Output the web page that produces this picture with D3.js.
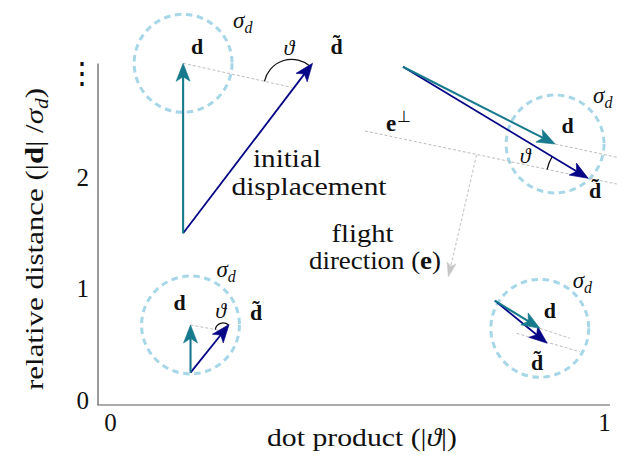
<!DOCTYPE html>
<html>
<head>
<meta charset="utf-8">
<script src="https://cdn.jsdelivr.net/npm/d3@7"></script>
<style>
  html, body { margin: 0; padding: 0; background: #fff; }
  svg { display: block; font-family: "Liberation Serif", "Times New Roman", Times, serif; }
</style>
</head>
<body>
<svg id="chart" width="617" height="455"></svg>
<script>
// ---- axis ticks ----
const xTickValues = [0, 1];
const yTickValues = [0, 1, 2];
const yBreakValue = 2.94;              // "⋮" above the last numbered tick

// ---- four example cases: true offset d (teal) and initial displacement d~ (navy) ----
const caseNames = ["far, off-axis", "far, along flight", "near, off-axis", "near, along flight"];
const originX = [0.148, 0.593, 0.163, 0.779];
const originY = [1.495, 2.989, 0.245, 0.891];
const dX      = [0.148, 0.901, 0.163, 0.870];
const dY      = [3.020, 2.296, 0.673, 0.643];
const dTildeX = [0.410, 0.968, 0.241, 0.885];
const dTildeY = [3.020, 1.988, 0.677, 0.509];
const sigmaD  = 0.439;                 // tolerance circle radius (relative-distance units)

// e-perpendicular guide lines: [x1, y1, x2, y2]
const guideLines = [
  [0.148, 3.020, 0.368, 2.804],
  [0.516, 2.413, 1.026, 1.937],
  [0.901, 2.296, 1.026, 2.177],
  [0.163, 0.673, 0.229, 0.619],
  [0.870, 0.643, 0.931, 0.553],
  [0.823, 0.598, 0.951, 0.433]
];
// flight direction e: [x1, y1, x2, y2]
const flightArrow = [0.742, 2.197, 0.685, 1.106];

// angle marks for theta: vertex, radius, and the two points the arms aim at
const angleMarks = [
  { v: [guideLines[0][2], guideLines[0][3]], r: 0.251, a: [dX[0], dY[0]], b: [dTildeX[0], dTildeY[0]] },
  { v: [dTildeX[1], dTildeY[1]],             r: 0.377, a: [guideLines[1][0], guideLines[1][1]], b: [originX[1], originY[1]] },
  { v: [guideLines[3][2], guideLines[3][3]], r: 0.072, a: [dX[2], dY[2]], b: [dTildeX[2], dTildeY[2]] }
];

// ---- scales ----
const x = d3.scaleLinear().domain([0, 1]).range([110, 604]);
const y = d3.scaleLinear().domain([0, 1]).range([400, 288.5]);
const len = v => y(0) - y(v);          // length in pixels for relative-distance units

const TEAL = "#17798c", NAVY = "#050586", CIRCLE = "#a7d7e7", GUIDE = "#bdbdbd", AXIS = "#5a5a5a";

const svg = d3.select("#chart");

// ---- axes ----
const axisG = svg.append("g");
axisG.append("path")
  .attr("d", `M${x(0) - 12},${y(3) - 2}V${y(0) + 5}H${x(1) + 6}`)
  .attr("fill", "none").attr("stroke", AXIS).attr("stroke-width", 1.2);

const yAxis = svg.append("g").attr("transform", `translate(${x(0) - 12},0)`)
  .call(d3.axisLeft(y).tickValues(yTickValues).tickSize(0).tickPadding(9).tickFormat(d3.format("d")));
const xAxis = svg.append("g").attr("transform", `translate(0,${y(0) + 5})`)
  .call(d3.axisBottom(x).tickValues(xTickValues).tickSize(0).tickPadding(8).tickFormat(d3.format("d")));
[yAxis, xAxis].forEach(g => {
  g.select(".domain").remove();
  g.selectAll("text").attr("font-family", null).attr("font-size", 25).attr("fill", "#111");
});
yAxis.attr("font-family", null);
xAxis.attr("font-family", null);
svg.append("text")
  .attr("x", x(0) - 28).attr("y", y(yBreakValue))
  .attr("text-anchor", "middle").attr("dominant-baseline", "central")
  .attr("font-size", 30).attr("fill", "#111")
  .text("⋮");

// axis titles
const xt = svg.append("text").attr("x", 362).attr("y", 446)
  .attr("text-anchor", "middle").attr("font-size", 26).attr("fill", "#111")
  .attr("textLength", 190).attr("lengthAdjust", "spacingAndGlyphs");
xt.append("tspan").text("dot product (|");
xt.append("tspan").attr("font-style", "italic").text("ϑ");
xt.append("tspan").text("|)");

const yt = svg.append("text").attr("transform", "translate(43,239) rotate(-90)")
  .attr("text-anchor", "middle").attr("font-size", 26).attr("fill", "#111")
  .attr("textLength", 302).attr("lengthAdjust", "spacingAndGlyphs");
yt.append("tspan").text("relative distance (|");
yt.append("tspan").attr("font-weight", "bold").text("d");
yt.append("tspan").text("| /");
yt.append("tspan").attr("font-style", "italic").text("σ");
yt.append("tspan").attr("font-style", "italic").attr("font-size", 18).attr("dy", 5).text("d");
yt.append("tspan").attr("dy", -5).text(")");

// ---- tolerance circles around d ----
svg.append("g").selectAll("circle").data(caseNames).join("circle")
  .attr("cx", (_, i) => x(dX[i])).attr("cy", (_, i) => y(dY[i]))
  .attr("r", len(sigmaD))
  .attr("fill", "none").attr("stroke", CIRCLE).attr("stroke-width", 3)
  .attr("stroke-dasharray", "6.5,4.6");

// ---- guide lines ----
svg.append("g").selectAll("line").data(guideLines).join("line")
  .attr("x1", d => x(d[0])).attr("y1", d => y(d[1]))
  .attr("x2", d => x(d[2])).attr("y2", d => y(d[3]))
  .attr("stroke", GUIDE).attr("stroke-width", 1).attr("stroke-dasharray", "3,2");

// arrow helper: shaft stops inside a stealth head drawn at the tip
function arrow(g, x1, y1, x2, y2, color, width, L, W, dash) {
  const dx = x2 - x1, dy = y2 - y1, n = Math.hypot(dx, dy);
  const ux = dx / n, uy = dy / n;
  const ang = Math.atan2(dy, dx) * 180 / Math.PI;
  g.append("line")
    .attr("x1", x1).attr("y1", y1)
    .attr("x2", x2 - ux * L * 0.6).attr("y2", y2 - uy * L * 0.6)
    .attr("stroke", color).attr("stroke-width", width)
    .attr("stroke-dasharray", dash || null);
  g.append("path")
    .attr("d", `M0,0L${-L},${-W / 2}L${-L * 0.75},0L${-L},${W / 2}Z`)
    .attr("transform", `translate(${x2},${y2}) rotate(${ang})`)
    .attr("fill", color).attr("stroke", color).attr("stroke-width", 0.6)
    .attr("stroke-linejoin", "round");
}

// flight direction
const fg = svg.append("g");
arrow(fg, x(flightArrow[0]), y(flightArrow[1]), x(flightArrow[2]), y(flightArrow[3]), "#c6c6c6", 1.1, 14, 9, "3,2");

// ---- angle marks ----
svg.append("g").selectAll("path").data(angleMarks).join("path")
  .attr("d", m => {
    const cx = x(m.v[0]), cy = y(m.v[1]);
    let a0 = Math.atan2(y(m.a[1]) - cy, x(m.a[0]) - cx);
    let a1 = Math.atan2(y(m.b[1]) - cy, x(m.b[0]) - cx);
    let diff = a1 - a0;
    while (diff > Math.PI) diff -= 2 * Math.PI;
    while (diff < -Math.PI) diff += 2 * Math.PI;
    const p = d3.path();
    const r = len(m.r);
    p.moveTo(cx + r * Math.cos(a0), cy + r * Math.sin(a0));
    p.arc(cx, cy, r, a0, a0 + diff, diff < 0);
    return p.toString();
  })
  .attr("fill", "none").attr("stroke", "#111").attr("stroke-width", 1.2);

// ---- d~ (navy) then d (teal) ----
const ag = svg.append("g");
caseNames.forEach((_, i) => {
  arrow(ag, x(originX[i]), y(originY[i]), x(dTildeX[i]), y(dTildeY[i]), NAVY, 1.8, 18, 14);
  arrow(ag, x(originX[i]), y(originY[i]), x(dX[i]), y(dY[i]), TEAL, 2.1, 18, 14);
});

// ---- math labels ----
const dLabelOff     = [[14, -9], [12.5, -11], [-11, -15], [10, -10]];
const dTildeLabelOff = [[24, -9], [7, 20], [27, -4.5], [-10, 27]];
const sigmaLabelOff = [[50, -35], [38, -41], [26, -48], [33, -40]];
const thetaLabelOff = [[-3, -32], [-63, -15], [-2.5, -13]];

const lg = svg.append("g").attr("fill", "#111");
caseNames.forEach((_, i) => {
  lg.append("text")
    .attr("x", x(dX[i]) + dLabelOff[i][0]).attr("y", y(dY[i]) + dLabelOff[i][1])
    .attr("text-anchor", "middle").attr("font-weight", "bold").attr("font-size", 22)
    .text("d");
  lg.append("text")
    .attr("x", x(dTildeX[i]) + dTildeLabelOff[i][0]).attr("y", y(dTildeY[i]) + dTildeLabelOff[i][1])
    .attr("text-anchor", "middle").attr("font-weight", "bold").attr("font-size", 22)
    .text("d\u0303");
  const s = lg.append("text")
    .attr("x", x(dX[i]) + sigmaLabelOff[i][0]).attr("y", y(dY[i]) + sigmaLabelOff[i][1])
    .attr("font-style", "italic").attr("font-size", 23);
  s.append("tspan").text("σ");
  s.append("tspan").attr("font-size", 16).attr("dy", 5).text("d");
});
angleMarks.forEach((m, i) => {
  lg.append("text")
    .attr("x", x(m.v[0]) + thetaLabelOff[i][0]).attr("y", y(m.v[1]) + thetaLabelOff[i][1])
    .attr("text-anchor", "middle").attr("font-style", "italic").attr("font-size", 22)
    .text("ϑ");
});

// e-perp label at the start of the long guide
const ep = lg.append("text")
  .attr("x", x(guideLines[1][0]) + 21).attr("y", y(guideLines[1][1]))
  .attr("font-size", 23);
ep.append("tspan").attr("font-weight", "bold").text("e");
ep.append("tspan").attr("font-size", 16).attr("dy", -9).attr("dx", 1).text("⊥");

// ---- word annotations ----
const words = svg.append("g").attr("fill", "#111").attr("font-size", 26).attr("text-anchor", "middle");
words.append("text").attr("x", 287).attr("y", 167)
  .attr("textLength", 68).attr("lengthAdjust", "spacingAndGlyphs").text("initial");
words.append("text").attr("x", 309).attr("y", 195)
  .attr("textLength", 155).attr("lengthAdjust", "spacingAndGlyphs").text("displacement");
words.append("text").attr("x", 362.5).attr("y", 242)
  .attr("textLength", 62).attr("lengthAdjust", "spacingAndGlyphs").text("flight");
const dir = words.append("text").attr("x", 375).attr("y", 269)
  .attr("textLength", 132).attr("lengthAdjust", "spacingAndGlyphs");
dir.append("tspan").text("direction (");
dir.append("tspan").attr("font-weight", "bold").text("e");
dir.append("tspan").text(")");
</script>
</body>
</html>
